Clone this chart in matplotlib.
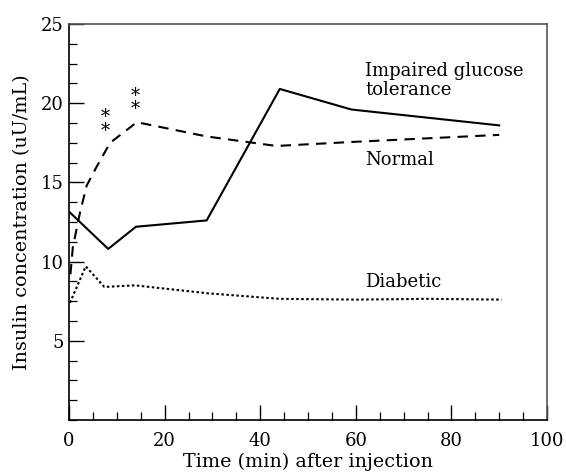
import matplotlib
matplotlib.use("Agg")
import matplotlib.pyplot as plt
from matplotlib.ticker import MultipleLocator

plt.rcParams['font.family'] = ['DejaVu Serif']

# Data
impaired_t = [0.2, 8.2, 14.0, 28.8, 44.1, 59.1, 90.0]
impaired_v = [13.1, 10.8, 12.2, 12.6, 20.9, 19.6, 18.6]

normal_t = [0.3, 0.8, 2.3, 3.7, 5.8, 8.6, 14.2, 28.8, 43.4, 59.0, 90.0]
normal_v = [9.2, 10.9, 13.1, 14.8, 16.0, 17.5, 18.8, 17.9, 17.3, 17.55, 18.0]

diabetic_t = [0.2, 3.5, 7.4, 13.8, 29.0, 44.0, 60.0, 75.0, 90.5]
diabetic_v = [7.4, 9.7, 8.4, 8.5, 8.0, 7.65, 7.6, 7.65, 7.6]

x_ticks = [0, 20, 40, 60, 80, 100]
y_ticks = [5, 10, 15, 20, 25]

labels = ["Impaired glucose\ntolerance", "Normal", "Diabetic"]
label_pos = [(62.0, 21.45), (62.0, 16.4), (62.0, 8.7)]
star_pos = [(7.5, 18.7), (13.8, 20.05)]

fig = plt.figure(figsize=(5.66, 4.72), dpi=100)
ax = fig.add_axes([69/566, 52/472, 478/566, 396/472])

ax.plot(impaired_t, impaired_v, color='black', lw=1.5, ls='-')
ax.plot(normal_t, normal_v, color='black', lw=1.5, ls=(0, (5, 3.5)))
ax.plot(diabetic_t, diabetic_v, color='black', lw=1.5, ls=(0, (1.2, 1.2)))

ax.set_xlim(0, 100)
ax.set_ylim(0, 25)
ax.set_xticks(x_ticks)
ax.set_yticks(y_ticks)
ax.xaxis.set_minor_locator(MultipleLocator(5))
ax.yaxis.set_minor_locator(MultipleLocator(1.25))
ax.tick_params(axis='both', which='major', direction='in', length=11, width=1.0,
               labelsize=13, top=False, right=False)
ax.tick_params(axis='both', which='minor', direction='in', length=6, width=0.9,
               top=False, right=False)
ax.tick_params(axis='x', which='major', pad=9)
ax.tick_params(axis='y', which='major', pad=4)

for s in ax.spines.values():
    s.set_linewidth(1.2)
    s.set_color('black')
ax.spines['top'].set_color('#555555')
ax.spines['right'].set_color('#555555')

ax.set_xlabel("Time (min) after injection", fontsize=13.8, labelpad=1.5)
ax.set_ylabel("Insulin concentration (uU/mL)", fontsize=13.8, labelpad=7)

for lab, (x, y) in zip(labels, label_pos):
    ax.text(x, y, lab, fontsize=13, ha='left', va='center', linespacing=1.05)

for (x, y) in star_pos:
    ax.text(x, y, "*\n*", fontsize=13, ha='center', va='center', linespacing=0.7)

fig.savefig("out.png", dpi=100)
